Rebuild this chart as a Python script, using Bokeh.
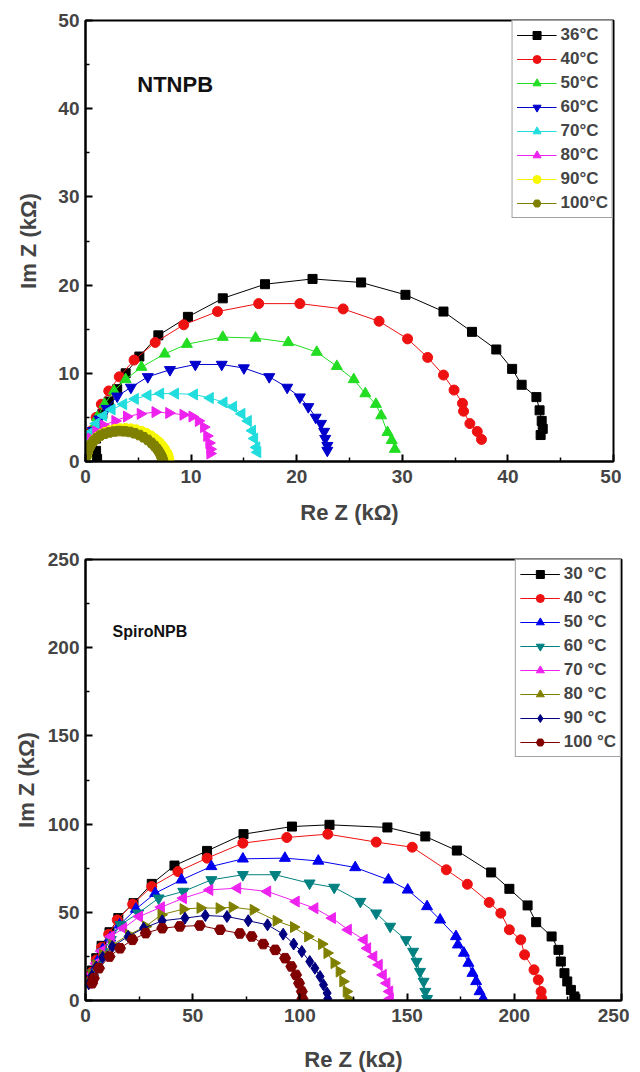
import numpy as np
from bokeh.plotting import figure
from bokeh.layouts import column
from bokeh.models import FixedTicker, Range1d
from bokeh.core.properties import value
from bokeh.embed import file_html
from bokeh.resources import INLINE

FONT = "Liberation Sans"

# ---------------- Top panel: NTNPB ----------------
top_labels = ["36\u00b0C", "40\u00b0C", "50\u00b0C", "60\u00b0C", "70\u00b0C", "80\u00b0C", "90\u00b0C", "100\u00b0C"]

t36_x = [1.1, 1.0, 1.0, 1.2, 1.6, 2.2, 3.0, 3.8, 5.1, 6.9, 9.7, 13.0, 17.0, 21.5, 26.1, 30.3, 33.9, 36.6, 38.9, 40.4, 41.3, 42.7, 43.0, 43.2, 43.3, 43.1]
t36_y = [0.3, 1.2, 2.6, 4.0, 5.4, 6.8, 8.2, 10.0, 11.9, 14.3, 16.4, 18.5, 20.1, 20.7, 20.3, 18.9, 17.0, 14.7, 12.7, 10.5, 8.7, 7.3, 5.8, 4.6, 3.7, 3.0]

t40_x = [0.1, 0.3, 0.6, 1.0, 1.5, 2.2, 3.2, 4.6, 6.6, 9.3, 12.5, 16.4, 20.3, 24.4, 27.8, 30.5, 32.4, 33.9, 34.9, 35.7, 35.8, 36.4, 37.1, 37.5]
t40_y = [0.8, 2.0, 3.5, 5.0, 6.5, 8.0, 9.6, 11.5, 13.5, 15.5, 17.0, 17.9, 17.9, 17.3, 15.9, 13.9, 11.8, 9.8, 8.1, 6.6, 5.7, 4.3, 3.4, 2.5]

t50_x = [0.1, 0.3, 0.6, 1.1, 1.8, 2.7, 3.8, 5.3, 7.5, 9.6, 13.0, 16.1, 19.2, 21.9, 23.8, 25.4, 26.5, 27.5, 28.0, 28.6, 29.0, 29.3]
t50_y = [0.8, 2.0, 3.5, 5.0, 6.5, 8.0, 9.3, 10.7, 12.2, 13.3, 14.1, 14.0, 13.5, 12.4, 10.8, 9.3, 7.7, 6.5, 5.2, 3.3, 2.4, 1.4]

t60_x = [0.1, 0.3, 0.7, 1.3, 2.0, 3.0, 4.3, 5.9, 8.0, 10.4, 12.9, 15.0, 17.4, 19.1, 20.3, 21.1, 21.8, 22.3, 22.6, 22.7, 22.9, 22.9]
t60_y = [1.0, 2.2, 3.5, 4.8, 6.0, 7.4, 8.4, 9.6, 10.4, 11.0, 11.0, 10.6, 9.6, 8.4, 7.3, 6.2, 5.0, 4.3, 3.4, 2.6, 1.8, 1.25]

t70_x = [0.05, 0.2, 0.5, 1.0, 1.7, 2.5, 3.6, 4.7, 5.9, 7.1, 8.5, 10.3, 11.8, 13.1, 14.0, 14.8, 15.4, 15.8, 16.0, 16.2, 16.3]
t70_y = [1.2, 2.3, 3.3, 4.3, 5.2, 5.9, 6.5, 7.1, 7.5, 7.7, 7.7, 7.6, 7.2, 6.7, 6.2, 5.4, 4.6, 3.5, 2.6, 1.6, 1.05]

t80_x = [0.05, 0.2, 0.5, 1.0, 1.7, 2.8, 3.9, 5.2, 6.6, 7.9, 9.25, 10.1, 10.7, 11.2, 11.5, 11.7, 11.8, 11.8]
t80_y = [0.9, 1.8, 2.6, 3.4, 4.1, 4.6, 5.1, 5.4, 5.6, 5.5, 5.3, 5.1, 4.6, 3.9, 2.9, 2.1, 1.4, 0.9]

t90_x = [0.1, 0.2, 0.35, 0.55, 0.8, 1.1, 1.45, 1.85, 2.3, 2.8, 3.3, 3.8, 4.3, 4.8, 5.3, 5.75, 6.2, 6.6, 6.95, 7.25, 7.5, 7.7, 7.8, 7.85, 7.9]
t90_y = [0.6, 1.1, 1.6, 2.0, 2.4, 2.75, 3.05, 3.3, 3.5, 3.65, 3.72, 3.75, 3.7, 3.6, 3.42, 3.2, 2.9, 2.55, 2.2, 1.8, 1.4, 1.0, 0.7, 0.4, 0.15]

t100_x = [0.05, 0.15, 0.3, 0.5, 0.75, 1.05, 1.4, 1.8, 2.25, 2.7, 3.2, 3.7, 4.2, 4.65, 5.1, 5.5, 5.9, 6.25, 6.55, 6.8, 7.0, 7.15, 7.25, 7.3]
t100_y = [0.5, 1.0, 1.5, 1.9, 2.3, 2.65, 2.95, 3.15, 3.3, 3.4, 3.45, 3.42, 3.35, 3.2, 3.0, 2.75, 2.45, 2.1, 1.75, 1.4, 1.05, 0.7, 0.4, 0.15]

top_xs = [t36_x, t40_x, t50_x, t60_x, t70_x, t80_x, t90_x, t100_x]
top_ys = [t36_y, t40_y, t50_y, t60_y, t70_y, t80_y, t90_y, t100_y]
top_colors = ["#000000", "#EE1111", "#22DD22", "#0000CC", "#22DDDD", "#EE22EE", "#F8F800", "#808000"]
top_markers = ["square", "circle", "triangle", "inverted_triangle", "triangle", "triangle", "circle", "hex"]
top_angles = [0, 0, 0, 0, np.pi / 2, -np.pi / 2, 0, 0]

# ---------------- Bottom panel: SpiroNPB ----------------
bot_labels = ["30 \u00b0C", "40 \u00b0C", "50 \u00b0C", "60 \u00b0C", "70 \u00b0C", "80 \u00b0C", "90 \u00b0C", "100 \u00b0C"]

b30_x = [2.0, 3.0, 5.0, 7.5, 11.2, 15.3, 22.4, 30.9, 41.5, 56.7, 73.7, 96.3, 113.8, 140.8, 158.5, 173.2, 189.2, 197.7, 206.2, 210.2, 217.4, 220.6, 221.7, 223.4, 224.7, 226.4, 228.0, 228.5]
b30_y = [12, 17, 24, 31, 38.7, 46.7, 55.2, 66.1, 76.5, 84.8, 94.3, 98.6, 99.6, 98.1, 93.0, 85.0, 72.6, 63.3, 53.9, 44.4, 36.3, 28.7, 22.1, 15.5, 10.8, 6.0, 2.3, 1.0]

b40_x = [2.0, 3.0, 5.0, 7.5, 10.8, 14.8, 22.0, 30.9, 43.1, 56.7, 73.4, 93.9, 113.0, 135.6, 152.4, 168.3, 178.1, 188.3, 193.7, 197.7, 203.0, 204.8, 209.2, 211.2, 212.5, 212.8]
b40_y = [11, 16, 23, 30, 37.5, 45.7, 54.6, 64.6, 73.1, 80.7, 89.2, 92.4, 94.3, 89.8, 86.9, 74.1, 65.9, 55.6, 49.5, 40.1, 34.4, 25.9, 17.4, 11.7, 5.1, 1.0]

b50_x = [2.0, 3.5, 5.5, 8.0, 11.5, 15.9, 23.5, 32.5, 44.8, 58.7, 73.4, 93.0, 108.6, 125.8, 141.3, 150.3, 159.3, 165.4, 172.8, 173.7, 176.5, 178.6, 180.5, 182.2, 183.8, 185.5]
b50_y = [11, 16, 22, 29, 35.5, 42.9, 51.8, 60.8, 68.4, 76.0, 80.3, 80.7, 79.1, 75.4, 68.4, 62.7, 53.3, 45.7, 36.3, 31.6, 26.9, 21.2, 15.5, 10.8, 5.1, 1.0]

b60_x = [2.0, 3.5, 5.5, 8.0, 11.8, 16.3, 24.6, 34.1, 45.6, 58.7, 73.4, 88.5, 104.5, 116.0, 128.2, 135.6, 142.1, 149.5, 152.8, 154.4, 156.0, 157.7, 158.5, 159.3]
b60_y = [10.5, 15.5, 21, 27.5, 34.5, 42.9, 49.5, 58.0, 61.8, 68.4, 71.3, 71.3, 66.5, 64.1, 56.1, 49.5, 42.0, 34.4, 27.8, 22.1, 16.4, 10.8, 5.1, 1.0]

b70_x = [1.5, 3.0, 5.0, 7.5, 11.9, 17.7, 25.1, 35.3, 45.6, 57.9, 70.9, 84.9, 98.2, 106.9, 115.1, 122.5, 129.9, 131.5, 134.4, 136.9, 138.8, 140.5, 141.8, 142.1]
b70_y = [10, 15, 21, 28, 36.3, 41.0, 47.6, 52.9, 58.0, 62.7, 63.7, 61.8, 56.1, 52.3, 46.7, 40.1, 34.4, 29.6, 24.9, 20.2, 14.5, 9.8, 5.1, 1.0]

b80_x = [1.5, 3.0, 5.0, 8.0, 12.5, 20.2, 28.1, 35.3, 45.6, 53.5, 62.4, 68.5, 78.3, 89.0, 97.1, 103.7, 110.2, 112.7, 116.0, 118.4, 120.1, 121.7, 122.5]
b80_y = [10, 14.5, 20, 26, 31.5, 37.3, 42.0, 48.6, 51.8, 52.5, 52.3, 52.9, 51.4, 45.2, 41.6, 36.3, 32.0, 26.9, 21.2, 16.4, 10.8, 5.1, 1.0]

b90_x = [1.5, 3.0, 5.0, 8.0, 12.5, 19.9, 27.1, 35.8, 46.4, 55.9, 66.0, 75.9, 84.9, 92.2, 97.1, 100.9, 104.6, 107.0, 109.4, 111.0, 112.7, 113.0]
b90_y = [9.5, 14, 19, 24.5, 30.5, 36.3, 41.0, 45.2, 46.7, 48.2, 47.6, 45.2, 42.9, 37.6, 32.0, 27.8, 22.1, 18.3, 13.6, 8.9, 4.2, 1.0]

b100_x = [3.1, 3.9, 6.3, 11.2, 16.1, 21.9, 28.1, 35.8, 44.0, 53.3, 62.8, 72.0, 77.5, 82.9, 88.5, 93.1, 96.0, 98.2, 99.6, 100.9, 101.2]
b100_y = [9.8, 12.6, 18.3, 24.9, 29.6, 34.4, 38.2, 41.0, 42.0, 42.5, 40.1, 38.0, 36.3, 32.0, 28.7, 24.0, 19.3, 14.5, 9.8, 5.1, 1.0]

bot_xs = [b30_x, b40_x, b50_x, b60_x, b70_x, b80_x, b90_x, b100_x]
bot_ys = [b30_y, b40_y, b50_y, b60_y, b70_y, b80_y, b90_y, b100_y]
bot_colors = ["#000000", "#EE1111", "#0000EE", "#008080", "#EE22EE", "#808000", "#000080", "#800000"]
bot_markers = ["square", "circle", "triangle", "inverted_triangle", "triangle", "triangle", "diamond", "hex"]
bot_angles = [0, 0, 0, 0, np.pi / 2, -np.pi / 2, 0, 0]

top_ticks = [0, 10, 20, 30, 40, 50]
top_minor = [5, 15, 25, 35, 45]
bot_ticks = [0, 50, 100, 150, 200, 250]
bot_minor = [25, 75, 125, 175, 225]

MARKER_SIZE = {"square": 9, "circle": 10, "triangle": 11, "inverted_triangle": 11, "hex": 11, "diamond": 12}


def make_panel(xs, ys, labels, colors, markers, angles, xmax, ymax, ticks, minor,
               fw, fh, top_border, bottom_border, tag, tag_xy, tag_size,
               ylab_standoff, xlab_standoff):
    p = figure(frame_width=fw, frame_height=fh,
               x_range=Range1d(0, xmax), y_range=Range1d(0, ymax),
               min_border_left=85, min_border_right=8,
               min_border_top=top_border, min_border_bottom=bottom_border,
               toolbar_location=None, output_backend="svg",
               x_axis_label="Re Z (k\u03a9)", y_axis_label="Im Z (k\u03a9)")
    p.grid.visible = False
    p.outline_line_color = "black"
    p.outline_line_width = 2
    for ax in (p.xaxis[0], p.yaxis[0]):
        ax.ticker = FixedTicker(ticks=ticks, minor_ticks=minor)
        ax.axis_line_width = 2
        ax.major_tick_in = 7
        ax.major_tick_out = 0
        ax.minor_tick_in = 4
        ax.minor_tick_out = 0
        ax.major_tick_line_width = 2
        ax.minor_tick_line_width = 1.5
        ax.major_label_text_font = FONT
        ax.major_label_text_font_style = "bold"
        ax.major_label_text_font_size = "19px"
        ax.axis_label_text_font = FONT
        ax.axis_label_text_font_style = "bold"
        ax.axis_label_text_font_size = "22px"
    p.xaxis[0].major_label_standoff = 8
    p.yaxis[0].major_label_standoff = 6
    p.xaxis[0].axis_label_standoff = xlab_standoff
    p.yaxis[0].axis_label_standoff = ylab_standoff

    for x, y, lab, c, m, a in zip(xs, ys, labels, colors, markers, angles):
        p.line(x, y, line_color=c, line_width=1, legend_label=lab)
        p.scatter(x, y, marker=m, size=MARKER_SIZE[m], angle=a,
                  fill_color=c, line_color=c, line_width=1, legend_label=lab)

    p.text(x=[tag_xy[0]], y=[tag_xy[1]], text=[tag], text_font=value(FONT),
           text_font_style="bold", text_font_size=tag_size,
           text_baseline="middle", text_align="left", text_color="#111111")

    lg = p.legend[0]
    lg.location = "top_right"
    lg.margin = 0
    lg.padding = 4
    lg.spacing = 4
    lg.glyph_width = 40
    lg.glyph_height = 20
    lg.label_height = 20
    lg.label_standoff = 4
    lg.label_text_font = FONT
    lg.label_text_font_style = "bold"
    lg.label_text_font_size = "17px"
    lg.border_line_color = "#444444"
    lg.border_line_width = 1
    lg.background_fill_color = "white"
    lg.background_fill_alpha = 1.0
    return p


p1 = make_panel(top_xs, top_ys, top_labels, top_colors, top_markers, top_angles,
                50, 50, top_ticks, top_minor, 528, 441, 20, 62,
                "NTNPB", (4.9, 42.8), "22px", 14, 14)
p2 = make_panel(bot_xs, bot_ys, bot_labels, bot_colors, bot_markers, bot_angles,
                250, 250, bot_ticks, bot_minor, 536, 441, 32, 72,
                "SpiroNPB", (12.6, 209), "16px", 6, 22)

layout = column(p1, p2, spacing=0)
open("out.html", "w").write(file_html(layout, INLINE))
